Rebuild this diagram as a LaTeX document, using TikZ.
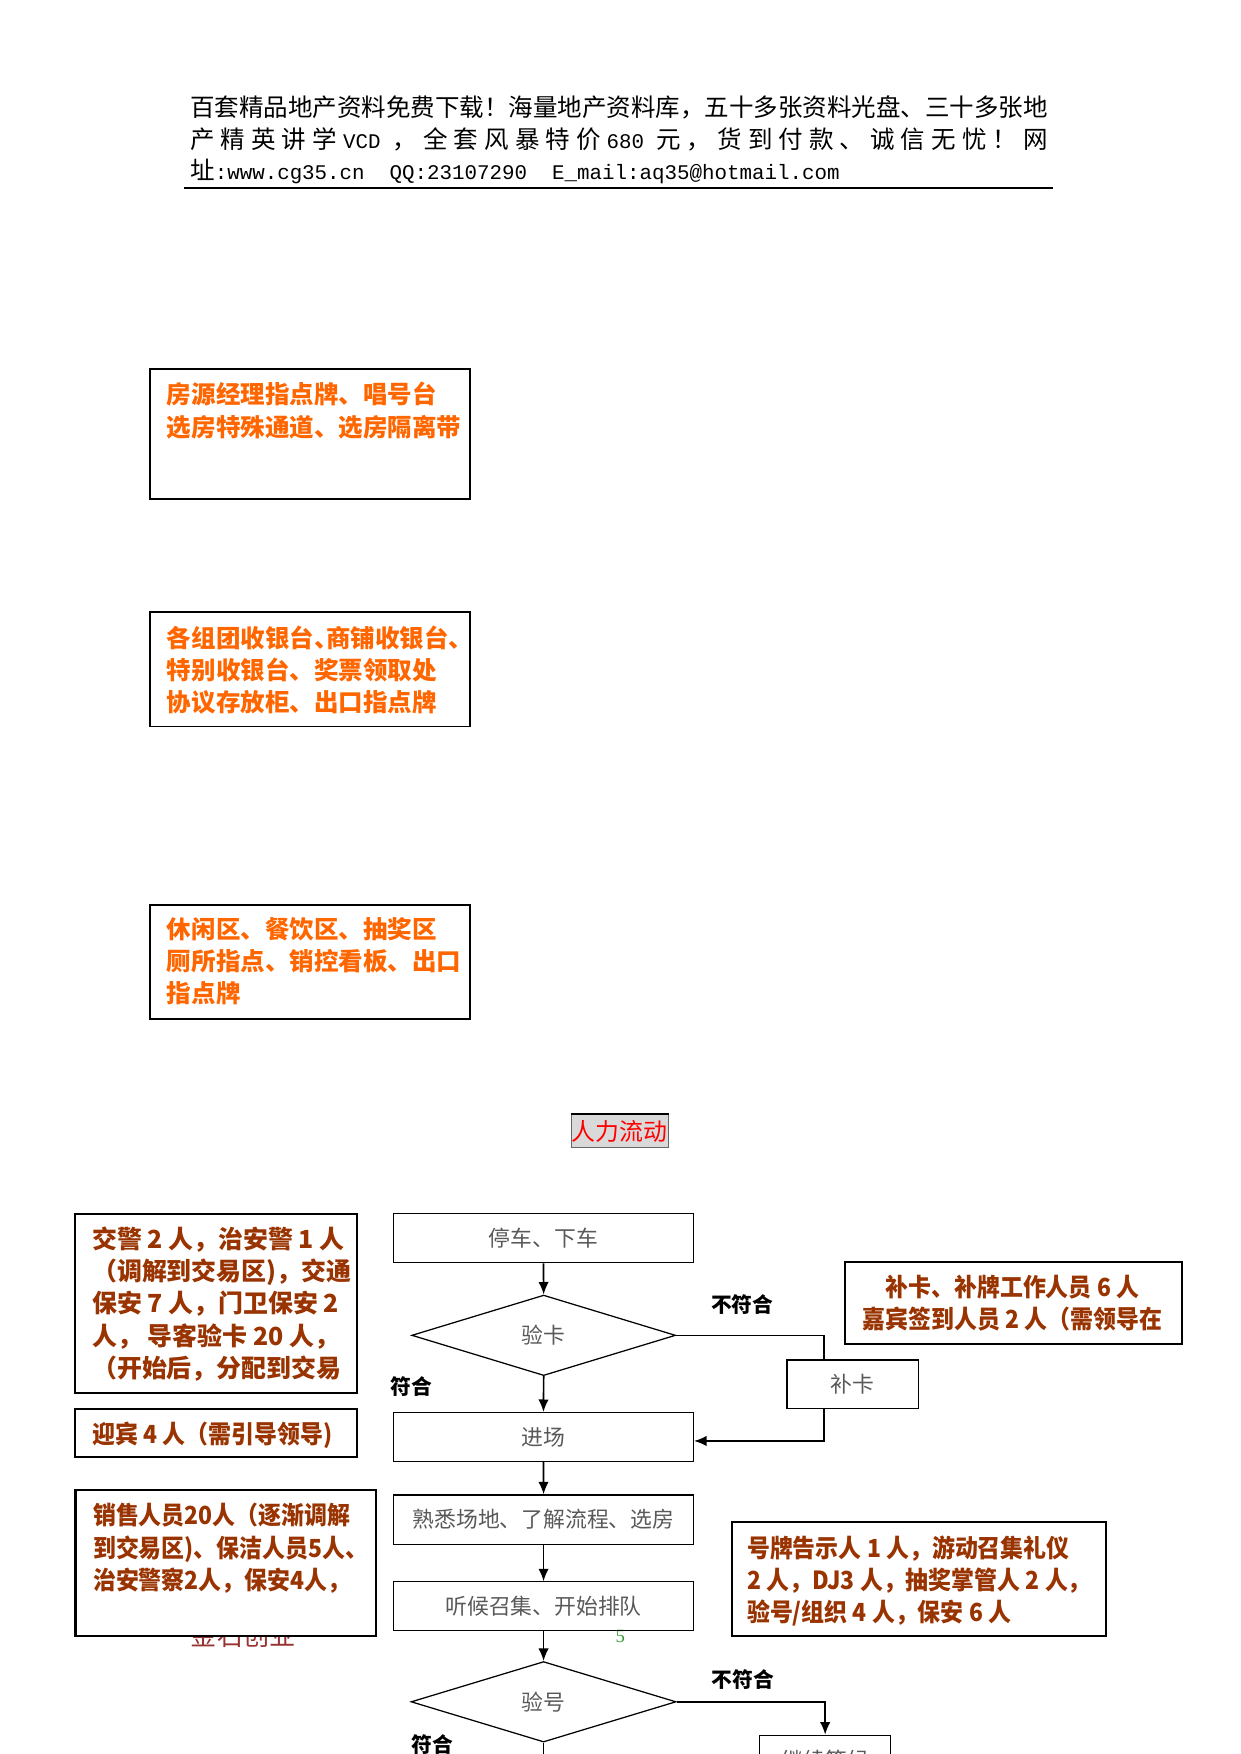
\documentclass[tikz,border=0pt]{standalone}
\usepackage{fontspec}
\setmainfont{Noto Sans CJK SC}
\setmonofont{Liberation Mono}[Scale=0.85]
\newfontfamily\narrowcjk{Noto Sans CJK SC}[FakeStretch=0.92]
\newfontfamily\pagefont{Liberation Serif}
\usetikzlibrary{arrows.meta,shapes.geometric,calc,positioning}
\newlength\pxu
\setlength\pxu{0.18919mm}
\definecolor{signorange}{RGB}{255,102,0}
\definecolor{staffbrown}{RGB}{153,51,0}
\definecolor{flowgray}{RGB}{89,89,89}
\definecolor{footred}{RGB}{153,51,51}
\definecolor{pagegreen}{RGB}{51,153,51}
\tikzset{
  headline/.style={anchor=base west, inner sep=0pt, font=\fontsize{11.8}{14}\selectfont},
  signbox/.style={draw, line width=0.9pt, anchor=north west, inner sep=0pt},
  signtext/.style={anchor=north west, inner sep=0pt, align=left, text=signorange, font=\bfseries\fontsize{11.8}{15.56}\selectfont},
  staffbox/.style={draw, fill=white, line width=1pt, anchor=north west, inner sep=0pt},
  stafftext/.style={anchor=north west, inner sep=0pt, align=left, text=staffbrown, font=\bfseries\fontsize{12}{15.56}\selectfont},
  staffnarrow/.style={stafftext, font=\narrowcjk\bfseries\fontsize{12}{15.56}\selectfont},
  flowbox/.style={draw, line width=0.6pt, minimum width=268.3\pxu, minimum height=43.8\pxu, inner sep=0pt, text=flowgray, font=\fontsize{10.5}{12}\selectfont},
  checkbox/.style={diamond, draw, line width=0.6pt, minimum width=236\pxu, minimum height=72\pxu, inner sep=0pt, text=flowgray, font=\fontsize{10.5}{12}\selectfont},
  judge/.style={inner sep=0pt, font=\bfseries\fontsize{10}{12}\selectfont},
  flowline/.style={line width=0.8pt},
  flowarrow/.style={flowline, -{Latex[length=6pt,width=5pt]}}
}
\begin{document}
\begin{tikzpicture}[x=0.18919mm, y=-0.18919mm]
\useasboundingbox (0,0) rectangle (1110,1568.9);
\clip (0,0) rectangle (1110,1568.9);
\node[headline] (head1) at (169.8,104) {百套精品地产资料免费下载！海量地产资料库，五十多张资料光盘、三十多张地};
\node[headline] (head2) at (169.8,132.5) {\makebox[767\pxu][s]{产 精 英 讲 学 \texttt{VCD} \ ， 全 套 风 暴 特 价 \texttt{680} \ 元 ， 货 到 付 款 、 诚 信 无 忧 ！ 网}};
\node[headline] (head3) at (169.8,161) {址\texttt{:www.cg35.cn\ \ QQ:23107290\ \ E\_mail:aq35@hotmail.com}};
\draw[line width=1pt] (164.5,168.4) -- (942.1,168.4);

\node[signbox, minimum width=286\pxu, minimum height=116.2\pxu] (housebox) at (133.5,329.3) {};
\node[signtext] (housetext) at (149,341.6) {房源经理指点牌、唱号台\\选房特殊通道、选房隔离带};
\node[signbox, minimum width=286\pxu, minimum height=102.2\pxu] (cashbox) at (133.5,546.8) {};
\node[signtext] (cashtext) at (149,559.2) {各组团收银台\makebox[0.5em][l]{、}商铺收银台\makebox[0.6em][l]{、}\\特别收银台、奖票领取处\\协议存放柜、出口指点牌};
\node[signbox, minimum width=286\pxu, minimum height=101.4\pxu] (restbox) at (133.5,809) {};
\node[signtext] (resttext) at (149,819.9) {休闲区、餐饮区、抽奖区\\厕所指点、销控看板、出口\\指点牌};

\node[draw=black!60, fill=black!15, minimum width=87\pxu, minimum height=29.8\pxu, inner sep=0pt, text=red, font=\fontsize{11.5}{14}\selectfont] (flowtitle) at (554.3,1011.7) {人力流动};
\draw[line width=1pt] (flowtitle.north west) -- (flowtitle.north east);

\node[inner sep=0pt, text=footred, font=\fontsize{12.6}{14}\selectfont] (footer) at (217.6,1463) {金石创业};
\node[inner sep=0pt, text=pagegreen, font=\pagefont\fontsize{9}{10}\selectfont] (pagenum) at (554.9,1464.2) {5};

\node[staffbox, minimum width=251.8\pxu, minimum height=160\pxu] (policebox) at (66.4,1084.7) {};
\node[stafftext] (policetext) at (82.1,1096.8) {交警 2 人，治安警 1 人\\（调解到交易区)，交通\\保安 7 人，门卫保安 2\\人， 导客验卡 20 人，\\（开始后，分配到交易};
\node[staffbox, minimum width=251.8\pxu, minimum height=43.3\pxu] (greetbox) at (66.4,1259) {};
\node[staffnarrow] (greettext) at (82.1,1271.2) {迎宾 4 人（需引导领导)};
\node[staffbox, minimum width=268.5\pxu, minimum height=131.1\pxu] (salesbox) at (66.6,1331.5) {};
\node[staffnarrow] (salestext) at (82.9,1344.2) {销售人员20人（逐渐调解\\到交易区)、保洁人员5人、\\治安警察2人，保安4人，};
\node[staffbox, minimum width=334.8\pxu, minimum height=101.9\pxu] (lotbox) at (653.6,1360.4) {};
\node[staffnarrow] (lottext) at (667.9,1373.1) {号牌告示人 1 人，游动召集礼仪\\2 人，DJ3 人，抽奖掌管人 2 人，\\验号/组织 4 人，保安 6 人};
\node[staffbox, minimum width=301.5\pxu, minimum height=73\pxu] (signinbox) at (754.5,1127.9) {};
\node[staffnarrow, anchor=north, align=center] (signintext) at (905.5,1140.1) {补卡、补牌工作人员 6 人\\嘉宾签到人员 2 人（需领导在};

\node[flowbox] (park) at (486.1,1107.5) {停车、下车};
\node[checkbox] (cardcheck) at (486.3,1194.4) {验卡};
\node[flowbox] (enter) at (486.1,1285.4) {进场};
\node[flowbox, minimum width=117.4\pxu, minimum height=43.6\pxu] (reissue) at (762.6,1238.2) {补卡};
\node[flowbox, minimum height=44.1\pxu] (learn) at (486.2,1359.2) {熟悉场地、了解流程、选房};
\node[flowbox] (queue) at (486.2,1436.8) {听候召集、开始排队};
\node[checkbox, minimum width=237\pxu] (numcheck) at (486.2,1522.2) {验号};
\node[flowbox, minimum width=117\pxu] (wait) at (738.1,1574) {继续等候};

\node[judge] (passa) at (368.2,1240.3) {符合};
\node[judge] (faila) at (664,1167.3) {不符合};
\node[judge] (failb) at (664.3,1502.7) {不符合};
\node[judge] (passb) at (386.7,1560) {符合};

\coordinate (reissuein) at ($(reissue.north west)!0.284!(reissue.north east)$);
\coordinate (numout) at (486.2,1600);
\draw[flowarrow] (park.south) -- (cardcheck.north);
\draw[flowarrow] (cardcheck.south) -- (enter.north);
\draw[flowline] (cardcheck.east) -| (reissuein);
\draw[flowarrow] (reissuein |- reissue.south) |- ([yshift=-3.5\pxu]enter.east);
\draw[flowarrow] (enter.south) -- (learn.north);
\draw[flowarrow] (learn.south) -- (queue.north);
\draw[flowarrow] (queue.south) -- (numcheck.north);
\draw[flowarrow] (numcheck.east) -| (wait.north);
\draw[flowline] (numcheck.south) -- (numout);
\end{tikzpicture}
\end{document}
